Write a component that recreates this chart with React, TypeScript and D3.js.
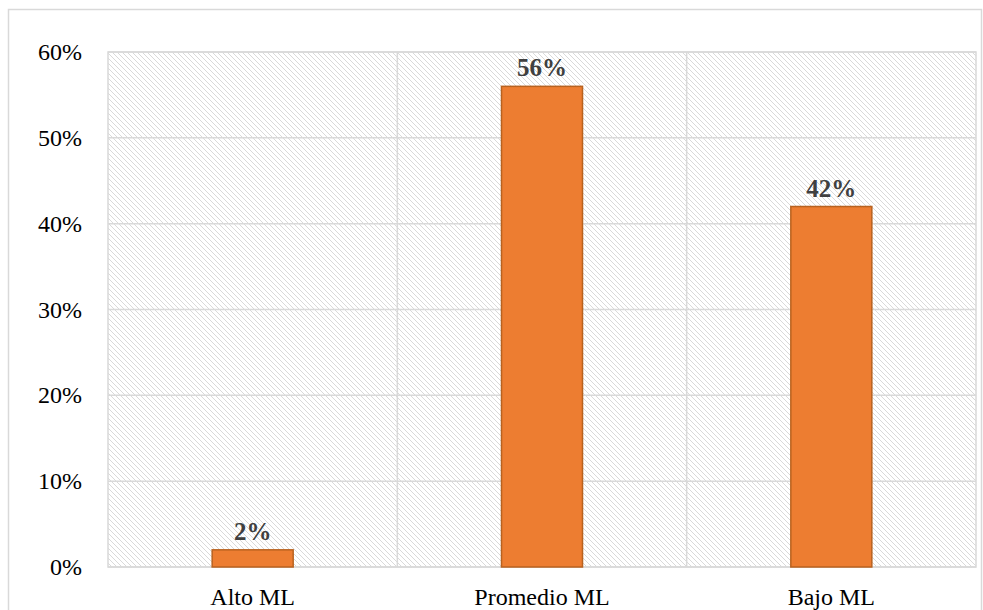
import React from "react";
import * as d3 from "d3";

const categories = ["Alto ML", "Promedio ML", "Bajo ML"];
const values = [0.02, 0.56, 0.42];
const yTicks = [0, 0.1, 0.2, 0.3, 0.4, 0.5, 0.6];

export default function App() {
  const W = 983, H = 610;
  const left = 108, right = 976, top = 52, bottom = 567;
  const x = d3.scaleBand<string>().domain(categories).range([left, right]).paddingInner(0).paddingOuter(0);
  const y = d3.scaleLinear().domain([0, 0.6]).range([bottom, top]);
  const bw = 81;
  const fmt = d3.format(".0%");
  const serif = "Liberation Serif, Times New Roman, serif";
  return (
    <svg width={W} height={H} style={{ position: "absolute", left: 0, top: 0, background: "#fff" }}>
      <defs>
        <pattern id="hatch" patternUnits="userSpaceOnUse" width={5} height={5}>
          <rect width={5} height={5} fill="#fff" />
          <path d="M-1,-1 L6,6 M-1,4 L1,6 M4,-1 L6,1" stroke="#d9d9d9" strokeWidth={1} />
        </pattern>
      </defs>
      <rect x={8.5} y={9.5} width={973} height={620} fill="#fff" stroke="#d9d9d9" strokeWidth={1.5} />
      <rect x={left} y={top} width={right - left} height={bottom - top} fill="url(#hatch)" stroke="#d9d9d9" strokeWidth={1.5} />
      {yTicks.map((t) => (
        <line key={t} x1={left} x2={right} y1={y(t)} y2={y(t)} stroke="#d9d9d9" strokeWidth={1.5} />
      ))}
      {categories.slice(1).map((c) => (
        <line key={c} x1={x(c)} x2={x(c)} y1={top} y2={bottom} stroke="#d9d9d9" strokeWidth={1.5} />
      ))}
      {yTicks.map((t) => (
        <text key={t} x={82} y={y(t) + 8} textAnchor="end" fontFamily={serif} fontSize={24} fill="#000">
          {fmt(t)}
        </text>
      ))}
      {categories.map((c, i) => {
        const cx = (x(c) as number) + x.bandwidth() / 2;
        return (
          <g key={c}>
            <rect x={cx - bw / 2} y={y(values[i])} width={bw} height={bottom - y(values[i])} fill="#ED7D31" stroke="#B9621F" strokeWidth={1.5} />
            <text x={cx} y={y(values[i]) - 10} textAnchor="middle" fontFamily={serif} fontWeight="bold" fontSize={25} fill="#404040">
              {fmt(values[i])}
            </text>
            <text x={cx} y={605} textAnchor="middle" fontFamily={serif} fontSize={24} fill="#000">
              {c}
            </text>
          </g>
        );
      })}
    </svg>
  );
}
